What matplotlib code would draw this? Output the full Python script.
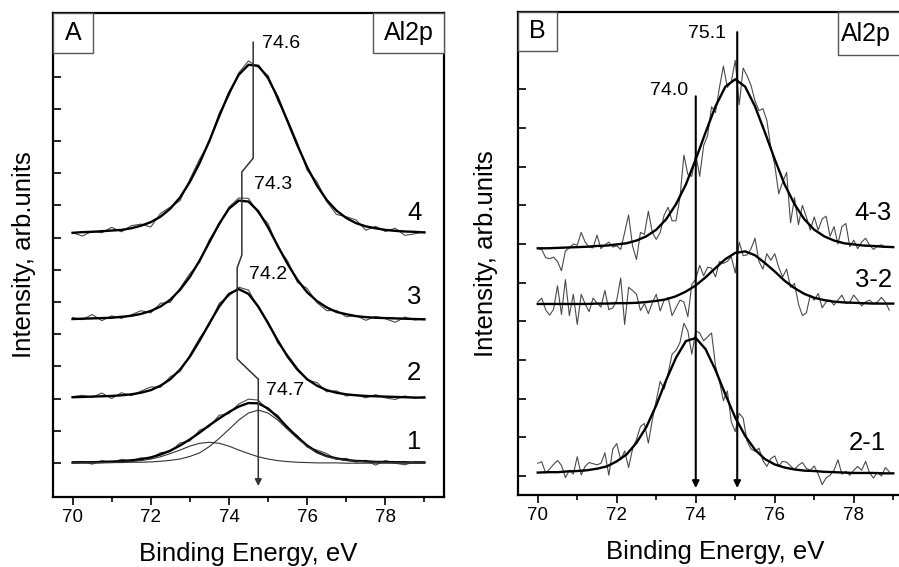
import matplotlib
matplotlib.use('Agg')
import matplotlib.pyplot as plt
from matplotlib.patches import Rectangle
from matplotlib.ticker import MultipleLocator, NullFormatter
import numpy as np

plt.rcParams['font.family'] = ['Liberation Sans', 'DejaVu Sans']

# energy grids, eV
fit_energy = np.linspace(70.0, 79.0, 37)          # 0.25 eV step
diff_energy = np.round(np.arange(700, 790) / 10, 1)  # 70.0 ... 78.9

# ---------------- panel A: Al2p spectra 1-4 (offset, arb. units) ----------------
a4_fit = [7.15, 7.17, 7.18, 7.20, 7.22, 7.24, 7.29, 7.37, 7.48, 7.65, 7.90, 8.25, 8.73, 9.32,
          10.01, 10.77, 11.49, 12.06, 12.37, 12.34, 11.96, 11.35, 10.61, 9.87, 9.19, 8.62,
          8.17, 7.84, 7.61, 7.45, 7.35, 7.29, 7.24, 7.21, 7.19, 7.18, 7.16]
a4_data = [7.15, 7.05, 7.20, 7.15, 7.32, 7.18, 7.37, 7.42, 7.33, 7.75, 7.95, 8.15, 8.81, 9.44,
           9.96, 10.87, 11.41, 12.12, 12.49, 12.29, 12.04, 11.25, 10.66, 9.95, 9.09, 8.74,
           8.12, 7.72, 7.65, 7.55, 7.23, 7.35, 7.19, 7.29, 7.07, 7.12, 7.18]
a3_fit = [4.47, 4.48, 4.49, 4.50, 4.51, 4.54, 4.57, 4.63, 4.72, 4.86, 5.07, 5.38, 5.78, 6.29,
          6.86, 7.43, 7.90, 8.15, 8.12, 7.82, 7.32, 6.74, 6.18, 5.69, 5.30, 5.03, 4.83, 4.69,
          4.62, 4.56, 4.53, 4.51, 4.50, 4.49, 4.48, 4.47, 4.46]
a3_data = [4.52, 4.45, 4.61, 4.42, 4.57, 4.49, 4.60, 4.73, 4.66, 4.96, 4.99, 5.43, 5.88, 6.23,
           6.94, 7.38, 7.95, 8.23, 8.22, 7.76, 7.44, 6.69, 6.28, 5.61, 5.42, 4.98, 4.73, 4.74,
           4.54, 4.58, 4.43, 4.55, 4.48, 4.37, 4.53, 4.44, 4.48]
a2_fit = [2.04, 2.05, 2.06, 2.07, 2.08, 2.10, 2.13, 2.18, 2.26, 2.40, 2.60, 2.90, 3.30, 3.80,
          4.34, 4.86, 5.25, 5.40, 5.25, 4.86, 4.34, 3.80, 3.30, 2.90, 2.60, 2.40, 2.26, 2.18,
          2.13, 2.10, 2.08, 2.07, 2.06, 2.05, 2.04, 2.03, 2.03]
a2_data = [2.06, 2.10, 2.04, 2.17, 2.00, 2.18, 2.09, 2.23, 2.36, 2.35, 2.68, 2.84, 3.35, 3.88,
           4.29, 4.96, 5.19, 5.46, 5.37, 4.81, 4.39, 3.72, 3.36, 2.95, 2.57, 2.50, 2.21, 2.24,
           2.08, 2.12, 2.02, 2.12, 2.02, 1.97, 2.08, 2.01, 2.06]
a1_fit = [0.01, 0.02, 0.02, 0.03, 0.04, 0.05, 0.08, 0.11, 0.17, 0.26, 0.38, 0.54, 0.73, 0.94,
          1.17, 1.38, 1.58, 1.75, 1.86, 1.85, 1.69, 1.42, 1.10, 0.80, 0.54, 0.34, 0.21, 0.14,
          0.09, 0.06, 0.05, 0.03, 0.03, 0.02, 0.02, 0.01, 0.01]
a1_data = [0.04, 0.04, -0.04, 0.07, 0.01, 0.11, 0.06, 0.16, 0.13, 0.32, 0.35, 0.62, 0.68, 1.02,
           1.13, 1.48, 1.53, 1.83, 1.98, 1.95, 1.64, 1.48, 1.06, 0.85, 0.49, 0.40, 0.29, 0.11,
           0.14, 0.02, 0.08, -0.07, 0.07, -0.01, -0.06, 0.04, 0.03]
# two components of spectrum 1 (74.7 and ~73.5 eV)
a1_comp_high = [0.00, 0.00, 0.00, 0.01, 0.01, 0.01, 0.02, 0.02, 0.03, 0.05, 0.08, 0.12, 0.20,
                0.31, 0.51, 0.76, 1.04, 1.33, 1.55, 1.64, 1.55, 1.33, 1.04, 0.76, 0.51, 0.31,
                0.20, 0.12, 0.08, 0.05, 0.03, 0.02, 0.02, 0.01, 0.01, 0.01, 0.00]
a1_comp_low = [-0.01, 0.00, 0.00, 0.00, 0.01, 0.02, 0.04, 0.07, 0.12, 0.19, 0.29, 0.40, 0.52,
               0.61, 0.64, 0.61, 0.52, 0.40, 0.29, 0.19, 0.12, 0.07, 0.04, 0.02, 0.01, 0.00,
               0.00, 0.00, -0.01, -0.01, -0.01, -0.01, -0.01, -0.01, -0.01, -0.01, -0.01]

a_curve_labels = ['1', '2', '3', '4']
a_curve_label_y = [0.65, 2.8, 5.16, 7.76]

# peak-position marker line in A (eV, intensity)
a_mark_x = [74.62, 74.62, 74.33, 74.33, 74.21, 74.21, 74.75, 74.75]
a_mark_y = [13.07, 9.47, 9.04, 6.46, 6.06, 3.23, 2.60, -0.72]
a_peak_labels = ['74.6', '74.3', '74.2', '74.7']
a_peak_label_x = [74.85, 74.64, 74.51, 74.94]
a_peak_label_y = [13.04, 8.65, 5.84, 2.24]

# ---------------- panel B: difference spectra ----------------
b43_fit = [5.89, 5.89, 5.90, 5.91, 5.92, 5.93, 5.95, 5.96, 5.99, 6.02, 6.09, 6.20, 6.37, 6.64,
           7.03, 7.54, 8.19, 8.89, 9.56, 10.07, 10.26, 10.07, 9.56, 8.89, 8.19, 7.54, 7.03,
           6.64, 6.37, 6.20, 6.09, 6.02, 5.99, 5.96, 5.95, 5.93, 5.92]
b32_fit = [4.45, 4.45, 4.45, 4.45, 4.45, 4.45, 4.46, 4.46, 4.47, 4.47, 4.48, 4.50, 4.53, 4.57,
           4.65, 4.77, 4.93, 5.14, 5.38, 5.61, 5.77, 5.81, 5.71, 5.51, 5.29, 5.05, 4.86, 4.71,
           4.61, 4.55, 4.51, 4.49, 4.48, 4.47, 4.46, 4.46, 4.46]
b21_fit = [0.09, 0.10, 0.10, 0.12, 0.13, 0.15, 0.19, 0.25, 0.38, 0.56, 0.86, 1.27, 1.83, 2.48,
           3.06, 3.49, 3.57, 3.28, 2.74, 2.11, 1.51, 1.04, 0.68, 0.44, 0.30, 0.22, 0.17, 0.14,
           0.13, 0.11, 0.10, 0.09, 0.08, 0.08, 0.08, 0.07, 0.07]

b43_data = [5.88, 5.86, 5.65, 5.62, 5.66, 5.55, 5.31, 5.82, 5.90, 6.00,
            5.97, 6.30, 6.05, 5.92, 5.90, 6.23, 5.88, 5.98, 6.05, 5.92,
            5.95, 5.86, 6.30, 6.75, 5.95, 5.60, 6.30, 6.25, 6.85, 6.30,
            6.12, 6.30, 6.75, 6.95, 6.60, 6.60, 7.20, 8.30, 7.80, 7.75,
            8.32, 7.75, 8.55, 8.80, 9.55, 9.40, 10.05, 10.60, 10.05, 10.20,
            10.75, 9.60, 10.55, 10.35, 10.10, 9.70, 9.45, 9.50, 9.20, 8.50,
            8.05, 7.30, 7.60, 7.85, 6.55, 7.20, 6.50, 7.00, 6.70, 6.36,
            6.70, 6.36, 6.65, 6.72, 6.20, 6.45, 6.00, 6.45, 6.53, 5.93,
            6.10, 5.88, 6.05, 6.15, 5.97, 5.86, 5.95, 5.98, 5.92, 5.93]
b32_data = [4.50, 4.60, 4.30, 4.16, 4.31, 4.92, 4.18, 5.08, 4.15, 4.70,
            3.92, 4.70, 4.45, 4.25, 4.60, 4.48, 4.37, 4.80, 4.30, 4.35,
            4.55, 5.12, 3.92, 4.88, 4.80, 4.70, 4.28, 4.46, 4.20, 4.48,
            4.70, 4.27, 4.55, 4.62, 4.15, 4.35, 4.55, 4.50, 4.12, 4.95,
            5.10, 5.45, 5.18, 5.40, 5.38, 5.15, 5.55, 5.50, 5.55, 5.67,
            5.25, 6.05, 5.70, 5.72, 5.88, 6.15, 5.55, 5.35, 5.75, 5.58,
            5.75, 5.40, 5.15, 5.35, 4.88, 4.98, 4.45, 4.15, 4.22, 4.68,
            4.55, 4.72, 4.35, 4.50, 4.55, 4.42, 4.55, 4.68, 4.46, 4.50,
            4.68, 4.55, 4.40, 4.50, 4.55, 4.46, 4.50, 4.62, 4.50, 4.29]
b21_data = [0.33, 0.37, 0.08, 0.18, 0.30, 0.40, 0.28, -0.04, 0.15, 0.05,
            0.50, 0.03, 0.25, 0.35, 0.32, 0.29, 0.33, 0.60, 0.02, 0.70,
            0.84, 0.42, 0.65, 0.22, 0.70, 0.95, 1.28, 1.36, 0.85, 1.45,
            1.95, 2.45, 2.25, 2.65, 3.15, 3.25, 3.45, 3.95, 3.75, 3.15,
            3.75, 3.70, 3.50, 3.60, 3.70, 2.85, 2.45, 1.95, 2.20, 1.40,
            1.15, 1.62, 1.50, 0.90, 0.70, 0.64, 0.72, 0.40, 0.25, 0.45,
            0.52, 0.26, 0.38, 0.36, 0.26, 0.17, 0.28, 0.35, 0.20, 0.15,
            0.26, 0.05, -0.22, -0.05, 0.02, 0.15, 0.42, 0.05, 0.12, 0.02,
            0.15, 0.25, 0.15, 0.38, 0.08, -0.05, 0.10, 0.00, 0.22, 0.11]

b_curve_labels = ['2-1', '3-2', '4-3']
b_curve_label_x = [78.82, 78.98, 78.95]
b_curve_label_y = [0.85, 5.06, 6.79]

b_mark_x = [74.0, 75.05]
b_mark_top = [9.82, 11.48]
b_mark_bottom = -0.31
b_peak_labels = ['74.0', '75.1']
b_peak_label_x = [73.80, 74.77]
b_peak_label_y = [9.96, 11.45]

data_color = '#4a4a4a'
fit_lw = 1.7


def style_axis(ax, ylim, ymax_tick):
    ax.set_xlim(69.5, 79.5)
    ax.set_ylim(*ylim)
    ax.xaxis.set_major_locator(MultipleLocator(2))
    ax.xaxis.set_minor_locator(MultipleLocator(1))
    ax.set_yticks(np.arange(0, ymax_tick + 1))
    ax.yaxis.set_major_formatter(NullFormatter())
    ax.tick_params(axis='x', which='major', direction='out', length=6, width=1.2,
                   labelsize=13.5, pad=3)
    ax.tick_params(axis='x', which='minor', direction='out', length=3.5, width=1.2)
    ax.tick_params(axis='y', which='major', direction='in', length=6, width=1.2)
    for sp in ax.spines.values():
        sp.set_linewidth(1.6)
    ax.set_xlabel('Binding Energy, eV', fontsize=18.5, labelpad=11)


def corner_box(ax, x0, w, h, text, text_x=None, ha='center'):
    ax.add_patch(Rectangle((x0, 1 - h), w, h, transform=ax.transAxes, facecolor='white',
                           edgecolor='#555555', lw=1.0, zorder=5, clip_on=False))
    if text_x is None:
        text_x = x0 + w / 2
    ax.text(text_x, 1 - h / 2, text, transform=ax.transAxes, ha=ha, va='center',
            fontsize=18, zorder=6)


fig = plt.figure(figsize=(8.99, 5.67), dpi=100)
axA = fig.add_axes([53 / 899, 70 / 567, 391 / 899, 484 / 567])
axB = fig.add_axes([518 / 899, 72 / 567, 395 / 899, 483 / 567])

# ---- panel A
for data, fit in [(a1_data, a1_fit), (a2_data, a2_fit), (a3_data, a3_fit), (a4_data, a4_fit)]:
    axA.plot(fit_energy, data, color=data_color, lw=0.8)
    axA.plot(fit_energy, fit, color='black', lw=fit_lw)
axA.plot(fit_energy, a1_comp_high, color='#333333', lw=0.8)
axA.plot(fit_energy, a1_comp_low, color='#333333', lw=0.8)

axA.plot(a_mark_x[:-1], a_mark_y[:-1], color='#333333', lw=1.1)
axA.annotate('', xy=(a_mark_x[-1], a_mark_y[-1]), xytext=(a_mark_x[-2], a_mark_y[-2]),
             arrowprops=dict(arrowstyle='-|>', color='#333333', lw=1.1, mutation_scale=10,
                             shrinkA=0, shrinkB=0))
for lab, x, y in zip(a_peak_labels, a_peak_label_x, a_peak_label_y):
    axA.text(x, y, lab, fontsize=14, ha='left', va='center')
for lab, y in zip(a_curve_labels, a_curve_label_y):
    axA.text(78.74, y, lab, fontsize=18.5, ha='center', va='center')

style_axis(axA, (-1.06, 13.98), 12)
axA.set_ylabel('Intensity, arb.units', fontsize=18.5, labelpad=9)
corner_box(axA, 0.0, 40 / 391, 40 / 484, 'A')
corner_box(axA, 320 / 391, 71 / 391, 40 / 484, 'Al2p')

# ---- panel B
for data, fit in [(b21_data, b21_fit), (b32_data, b32_fit), (b43_data, b43_fit)]:
    axB.plot(diff_energy, data, color=data_color, lw=0.8)
    axB.plot(fit_energy, fit, color='black', lw=fit_lw)

for x, top in zip(b_mark_x, b_mark_top):
    axB.annotate('', xy=(x, b_mark_bottom), xytext=(x, top),
                 arrowprops=dict(arrowstyle='-|>', color='black', lw=1.5, mutation_scale=10,
                                 shrinkA=0, shrinkB=0))
for lab, x, y in zip(b_peak_labels, b_peak_label_x, b_peak_label_y):
    axB.text(x, y, lab, fontsize=14, ha='right', va='center')
for lab, x, y in zip(b_curve_labels, b_curve_label_x, b_curve_label_y):
    axB.text(x, y, lab, fontsize=18.5, ha='right', va='center')

style_axis(axB, (-0.49, 12.0), 10)
axB.set_ylabel('Intensity, arb.units', fontsize=18.5, labelpad=11)
corner_box(axB, 0.0, 39 / 395, 39 / 483, 'B')
corner_box(axB, 320 / 395, 80 / 395, 43 / 483, 'Al2p', text_x=323 / 395, ha='left')

fig.savefig('out.png', dpi=100)
